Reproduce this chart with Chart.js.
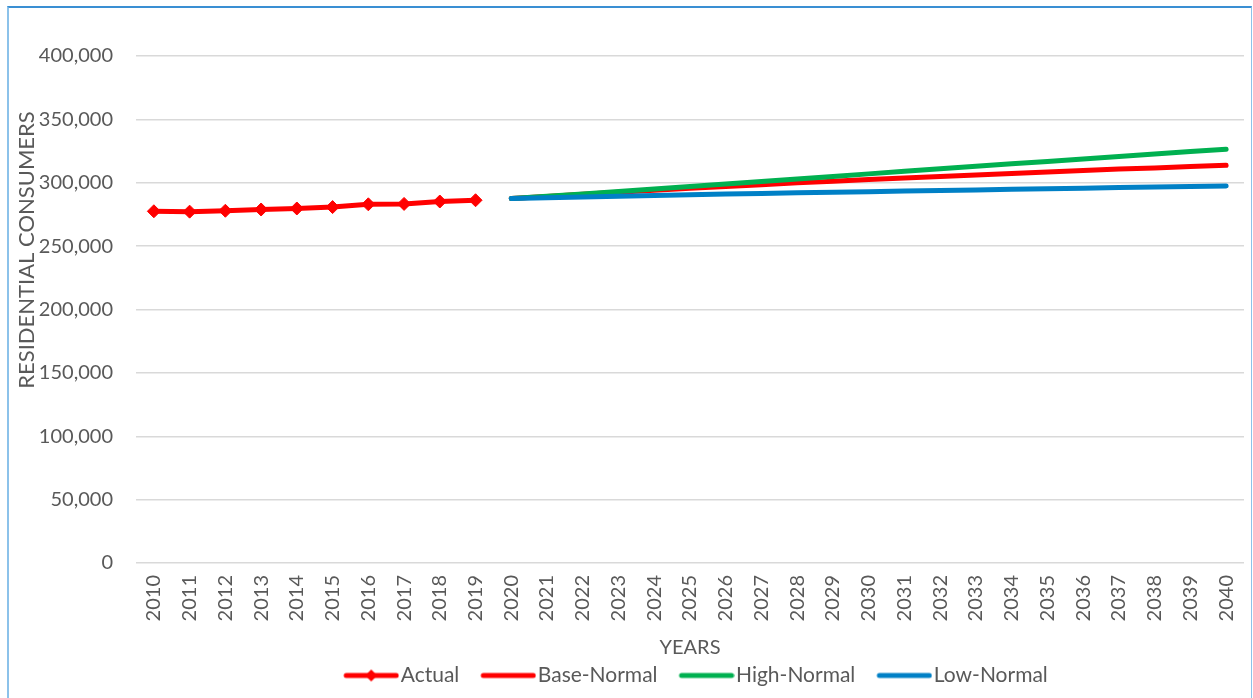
<!DOCTYPE html>
<html>
<head>
<meta charset="utf-8">
<script src="https://cdn.jsdelivr.net/npm/chart.js@4.4.0/dist/chart.umd.min.js"></script>
<style>
  html, body { margin: 0; padding: 0; background: #fff; }
  #wrap { position: relative; width: 1253px; height: 698px; }
  #frame { position: absolute; left: 7px; top: 6px; right: 1px; bottom: -2px;
           border-top: 2px solid #3A8FD3; border-left: 2px solid #8CC2EA; border-right: 1px solid #8CC2EA; }
  canvas { position: absolute; left: 0; top: 0; }
</style>
</head>
<body>
<div id="wrap">
  <div id="frame"></div>
  <canvas id="chart" width="1253" height="698"></canvas>
</div>
<script>
const years = ['2010','2011','2012','2013','2014','2015','2016','2017','2018','2019','2020',
  '2021','2022','2023','2024','2025','2026','2027','2028','2029','2030',
  '2031','2032','2033','2034','2035','2036','2037','2038','2039','2040'];

// values (consumers)
const actual = [277500, 277200, 277900, 278900, 279700, 280800, 283000, 283300, 285200, 286200];
const baseNormal = [287500, 289200, 290900, 292500, 294100, 295600, 297100, 298500, 299900, 301200, 302500,
  303700, 304900, 306100, 307300, 308500, 309700, 310800, 311700, 312800, 313800];
const highNormal = [287500, 289300, 291200, 293100, 295000, 297000, 299000, 301000, 303000, 305000, 307000,
  309000, 311000, 313000, 314900, 316800, 318800, 320700, 322600, 324600, 326500];
const lowNormal = [287500, 288200, 288800, 289400, 290000, 290600, 291100, 291600, 292100, 292500, 292900,
  293400, 293800, 294300, 294800, 295300, 295700, 296200, 296600, 297000, 297500];

const FONT = 'Lato, "Open Sans", sans-serif';
const GREY = '#595959';

// pad the series so they line up with the year labels
function history(vals) { return vals.concat(new Array(years.length - vals.length).fill(null)); }
function forecast(vals) { return new Array(years.length - vals.length).fill(null).concat(vals); }

// legend icons: a thick line, with a diamond for the Actual series
function legendIcon(color, diamond) {
  const c = document.createElement('canvas');
  c.width = 76; c.height = 14;
  const g = c.getContext('2d');
  g.strokeStyle = color; g.lineWidth = 5; g.lineCap = 'round';
  g.beginPath(); g.moveTo(23, 7); g.lineTo(73, 7); g.stroke();
  if (diamond) {
    g.fillStyle = color;
    g.beginPath(); g.moveTo(48, 1); g.lineTo(54, 7); g.lineTo(48, 13); g.lineTo(42, 7); g.closePath(); g.fill();
  }
  return c;
}

// axis title sits above the middle of the plot, as in the original
const yTitle = {
  id: 'yTitle',
  afterDraw(chart) {
    const ctx = chart.ctx;
    ctx.save();
    ctx.translate(27, 250);
    ctx.rotate(-Math.PI / 2);
    ctx.font = '22px ' + FONT;
    ctx.fillStyle = GREY;
    ctx.textAlign = 'center';
    ctx.textBaseline = 'middle';
    ctx.fillText('RESIDENTIAL CONSUMERS', 0, 0);
    ctx.restore();
  }
};

new Chart(document.getElementById('chart'), {
  type: 'line',
  data: {
    labels: years,
    datasets: [
      {
        label: 'Actual', data: history(actual), order: 0,
        borderColor: '#FF0000', backgroundColor: '#FF0000', borderWidth: 5,
        pointStyle: 'rectRot', pointRadius: 6.5, pointBorderWidth: 1,
        legendIcon: legendIcon('#FF0000', true)
      },
      {
        label: 'Base-Normal', data: forecast(baseNormal), order: 3,
        borderColor: '#FF0000', backgroundColor: '#FF0000', borderWidth: 5, pointRadius: 0,
        borderCapStyle: 'round', legendIcon: legendIcon('#FF0000', false)
      },
      {
        label: 'High-Normal', data: forecast(highNormal), order: 2,
        borderColor: '#00B050', backgroundColor: '#00B050', borderWidth: 5, pointRadius: 0,
        borderCapStyle: 'round', legendIcon: legendIcon('#00B050', false)
      },
      {
        label: 'Low-Normal', data: forecast(lowNormal), order: 1,
        borderColor: '#0080C6', backgroundColor: '#0080C6', borderWidth: 5, pointRadius: 0,
        borderCapStyle: 'round', legendIcon: legendIcon('#0080C6', false)
      }
    ]
  },
  options: {
    responsive: false,
    animation: false,
    layout: { padding: { left: 14, right: 9, top: 56, bottom: 2 } },
    plugins: {
      tooltip: { enabled: false },
      legend: {
        position: 'bottom',
        fullSize: false,
        labels: {
          usePointStyle: true,
          pointStyleWidth: 58,
          padding: 10,
          color: GREY,
          font: { family: FONT, size: 21 },
          sort: (a, b) => a.datasetIndex - b.datasetIndex,
          generateLabels: function(chart) {
            return chart.data.datasets.map(function(ds, i) {
              return { text: ds.label, datasetIndex: i, pointStyle: ds.legendIcon,
                       fillStyle: ds.borderColor, strokeStyle: ds.borderColor,
                       fontColor: GREY, lineWidth: 0, hidden: false };
            });
          }
        }
      }
    },
    scales: {
      x: {
        offset: true,
        grid: { display: false, drawTicks: false },
        border: { display: false },
        ticks: { color: GREY, font: { family: FONT, size: 20 }, minRotation: 90, maxRotation: 90, padding: 12, autoSkip: false },
        title: { display: true, text: 'YEARS', color: GREY, font: { family: FONT, size: 20 }, padding: { top: 0, bottom: -5 } },
        afterFit: s => { s.height = 92; s.paddingLeft = 0; s.paddingRight = 0; }
      },
      y: {
        min: 0, max: 400000,
        grid: { color: '#D9D9D9', lineWidth: 1.5, drawTicks: false },
        border: { display: false },
        ticks: {
          stepSize: 50000, padding: 23, color: GREY, font: { family: FONT, size: 20 },
          callback: v => v.toLocaleString('en-US')
        },
        afterFit: s => { s.width = 122; }
      }
    }
  },
  plugins: [yTitle]
});
</script>
</body>
</html>
